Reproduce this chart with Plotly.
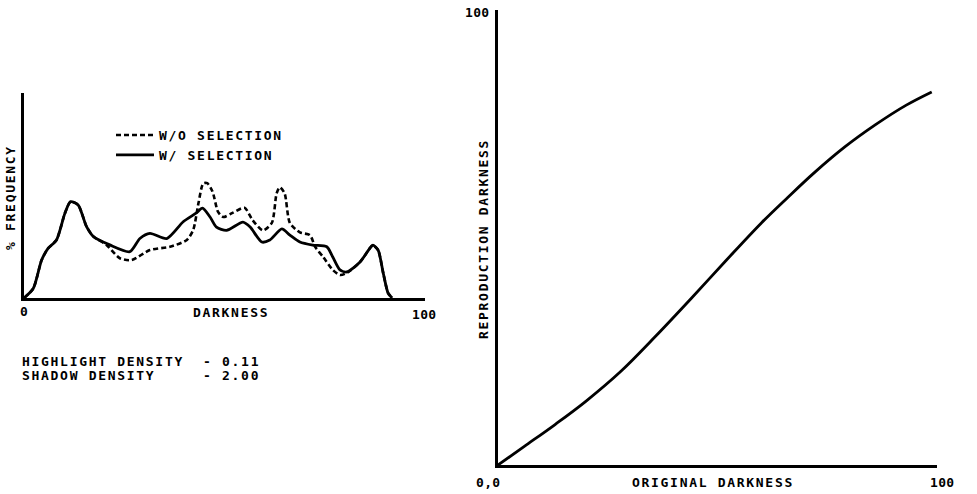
import plotly.graph_objects as go

# Histogram of darkness values (percent frequency), with and without selection
hist_x_with = [0, 2.3, 4.4, 6, 8.1, 10.2, 11.6, 13.5, 15.6, 17.3, 21.4, 26.4, 28.9, 31.4,
               35.6, 39.7, 43, 44.5, 46.4, 48, 50.5, 54.6, 56.4, 59.3, 61.3, 64.3,
               66.3, 68.8, 72, 75.5, 77, 78.8, 80.5, 83.8, 86.3, 87, 88.3, 89.6, 90.8, 91.8]
hist_y_with = [0, 4.6, 18.5, 24.2, 28.3, 41.3, 47, 45.4, 34.8, 30, 25.9, 22.6, 29, 31.5,
               29, 37.2, 41.5, 43.8, 39.5, 34.6, 33, 37, 34.6, 27.3, 28.3, 33.7,
               30.7, 27.3, 25.8, 25, 20, 13.7, 12.7, 17.6, 24.4, 25.8, 23.4, 12, 2.4, 0]

hist_x_without = [0, 2.3, 4.4, 6, 8.1, 10.2, 11.6, 13.5, 15.6, 17.3, 20.5, 23.9, 26.8, 31.4,
                  36.4, 40.6, 42.2, 43.5, 44.7, 45.7, 47, 48.4, 49.7, 52, 55, 57, 59.6,
                  61.8, 63, 63.8, 65, 66.3, 68.8, 71.3, 72.6, 74.6, 77, 78.8, 80.5, 83.8,
                  86.3, 87, 88.3, 89.6, 90.8, 91.8]
hist_y_without = [0, 4.6, 18.5, 24.2, 28.3, 41.3, 47, 45.4, 34.8, 30, 26, 19.4, 18.5, 23.4,
                  25, 28.3, 33.2, 46.2, 55.9, 56, 52, 42, 39.5, 41.5, 44, 38, 33,
                  36.6, 51, 54, 51, 36.6, 32, 30.7, 25, 20, 13.7, 11.2, 12.2, 17.6,
                  24.4, 25.8, 23.4, 12, 2.4, 0]

# Tone reproduction curve: original darkness -> reproduction darkness
tone_x = [0, 6, 13, 20, 28, 36, 44, 52, 60, 66, 72, 79, 86, 93, 98.8]
tone_y = [0, 4.1, 8.9, 14.0, 20.6, 28.4, 36.6, 45.0, 53.2, 58.8, 64.2, 69.9, 74.8, 79.1, 82.0]

legend_names = ["W/O SELECTION", "W/ SELECTION"]
density_labels = ["HIGHLIGHT DENSITY", "SHADOW DENSITY"]
density_values = ["- 0.11", "- 2.00"]

W, H = 977, 494
FONT = "DejaVu Sans Mono"
FSIZE = 13
INK = "black"


def spaced(text, ls=1.7):
    return f'<span style="letter-spacing:{ls}px">{text}</span>'


def px(x, y):
    return x / W, 1 - y / H


fig = go.Figure()

fig.add_trace(go.Scatter(
    x=hist_x_without, y=hist_y_without, mode="lines", name=spaced(legend_names[0]),
    line=dict(color=INK, width=2.6, dash="5px,3px", shape="spline", smoothing=0.7),
    xaxis="x", yaxis="y"))
fig.add_trace(go.Scatter(
    x=hist_x_with, y=hist_y_with, mode="lines", name=spaced(legend_names[1]),
    line=dict(color=INK, width=2.8, shape="spline", smoothing=0.7),
    xaxis="x", yaxis="y"))
fig.add_trace(go.Scatter(
    x=tone_x, y=tone_y, mode="lines", showlegend=False,
    line=dict(color=INK, width=2.8, shape="spline", smoothing=1.0),
    xaxis="x2", yaxis="y2"))

axis_common = dict(range=[0, 100], showline=True, linecolor=INK, linewidth=2.8,
                   showgrid=False, zeroline=False, showticklabels=False, ticks="",
                   fixedrange=True)

fig.update_layout(
    width=W, height=H,
    margin=dict(l=0, r=0, t=0, b=0),
    paper_bgcolor="white", plot_bgcolor="white",
    font=dict(family=FONT, size=FSIZE, color=INK, weight="bold"),
    xaxis=dict(domain=[24 / W, 425 / W], anchor="y", **axis_common),
    yaxis=dict(domain=[1 - 298 / H, 1 - 93 / H], anchor="x", **axis_common),
    xaxis2=dict(domain=[498 / W, 937 / W], anchor="y2", **axis_common),
    yaxis2=dict(domain=[1 - 465 / H, 1 - 10 / H], anchor="x2", **axis_common),
    legend=dict(x=111 / W, y=1 - 120 / H, xanchor="left", yanchor="top",
                bgcolor="rgba(0,0,0,0)", traceorder="normal",
                font=dict(family=FONT, size=FSIZE, color=INK, weight="bold"),
                itemwidth=38, tracegroupgap=0),
    showlegend=True,
)

labels = [
    # (text, x px, y px, xanchor, angle, letter spacing)
    ("0", 24, 311, "center", 0, 0),
    ("DARKNESS", 231, 312, "center", 0, 1.7),
    ("100", 424, 314, "center", 0, 0.3),
    ("% FREQUENCY", 10, 198, "center", -90, 1.7),
    (density_labels[0], 21, 361, "left", 0, 1.7),
    (density_labels[1], 21, 375, "left", 0, 1.7),
    (density_values[0], 202, 361, "left", 0, 1.7),
    (density_values[1], 202, 375, "left", 0, 1.7),
    ("100", 477, 12, "center", 0, 0.3),
    ("0,0", 488, 482, "center", 0, 0.3),
    ("ORIGINAL DARKNESS", 713, 482, "center", 0, 1.7),
    ("100", 942, 482, "center", 0, 0.3),
    ("REPRODUCTION DARKNESS", 483, 239, "center", -90, 1.7),
]
for text, lx, ly, xa, ang, ls in labels:
    ax, ay = px(lx, ly)
    fig.add_annotation(text=spaced(text, ls),
                       x=ax, y=ay, xref="paper", yref="paper",
                       xanchor=xa, yanchor="middle", textangle=ang,
                       showarrow=False, borderpad=0,
                       font=dict(family=FONT, size=FSIZE, color=INK, weight="bold"))

fig.write_html("out.html")
